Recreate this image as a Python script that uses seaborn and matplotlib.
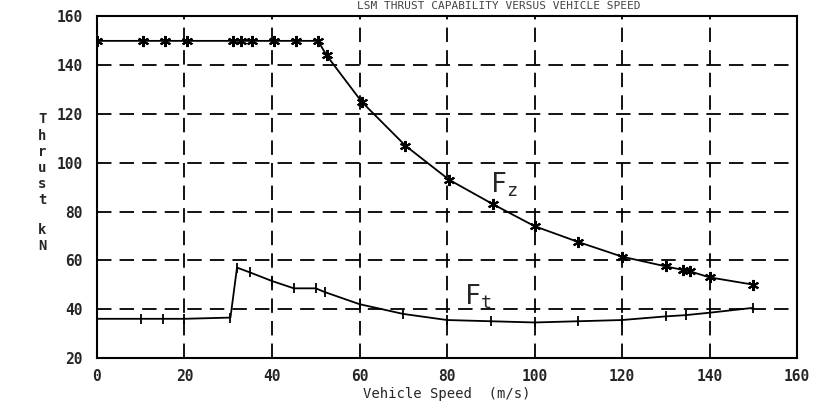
import numpy as np
import pandas as pd
import matplotlib
matplotlib.use("Agg")
import matplotlib.pyplot as plt
import seaborn as sns

# values
speed_fz = [0, 10.5, 15.5, 20.5, 31, 33, 35.5, 40.5, 45.5, 50.5, 52.5, 60.5,
            70.5, 80.5, 90.5, 100, 110, 120, 130, 134, 135.5, 140, 150]
thrust_fz = [150, 150, 150, 150, 150, 150, 150, 150, 150, 150, 144, 125,
             107, 93, 83, 74, 67.5, 61.5, 57.5, 56, 55.5, 53, 50]

speed_ft = [0, 10, 15, 20, 30.5, 32, 35, 40, 45, 50, 52, 60, 70, 80, 90,
            100, 110, 120, 130, 134.5, 140, 150]
thrust_ft = [36, 36, 36, 36, 36.5, 57, 55, 51.5, 48.5, 48.5, 47, 42, 38,
             35.5, 35, 34.5, 35, 35.5, 37, 37.5, 38.5, 40.5]

x_ticks = [0, 20, 40, 60, 80, 100, 120, 140, 160]
y_ticks = [20, 40, 60, 80, 100, 120, 140, 160]

title = "LSM THRUST CAPABILITY VERSUS VEHICLE SPEED"

sns.set_style("white")
plt.rcParams['font.family'] = ['DejaVu Sans Mono', 'DejaVu Sans']

fig = plt.figure(figsize=(8.31, 4.08), dpi=100)
ax = fig.add_axes([0.1167, 0.123, 0.8425, 0.8366])

df_fz = pd.DataFrame({'speed': speed_fz, 'thrust': thrust_fz})
df_ft = pd.DataFrame({'speed': speed_ft, 'thrust': thrust_ft})

sns.lineplot(data=df_fz, x='speed', y='thrust', ax=ax, color='black',
             linewidth=1.3, marker=(6, 2, 0), markersize=8,
             markeredgewidth=1.5, markeredgecolor='black', estimator=None)
sns.lineplot(data=df_ft, x='speed', y='thrust', ax=ax, color='black',
             linewidth=1.3, marker='|', markersize=7,
             markeredgewidth=1.3, markeredgecolor='black', estimator=None)

ax.set_xlim(0, 160)
ax.set_ylim(20, 160)
ax.set_xticks(x_ticks)
ax.set_yticks(y_ticks)
ax.set_xticklabels([str(v) for v in x_ticks], fontsize=10.5, fontweight='bold')
ax.set_yticklabels([str(v) for v in y_ticks], fontsize=10.5, fontweight='bold')
ax.tick_params(axis='x', length=0, pad=8)
ax.tick_params(axis='y', length=0, pad=10)

# dashed grid inside the box
for v in x_ticks[1:-1]:
    ax.axvline(v, color='black', lw=1.3, ls=(0, (8, 4.5)), zorder=1)
for v in y_ticks[1:-1]:
    ax.axhline(v, color='black', lw=1.3, ls=(0, (8, 4.5)), zorder=1)

for s in ax.spines.values():
    s.set_visible(True)
    s.set_color('black')
    s.set_linewidth(1.5)

ax.set_xlabel("Vehicle Speed  (m/s)", fontsize=10, labelpad=2)
ax.set_ylabel("")

ax.text(93, 91, r'$\mathregular{F_z}$', fontsize=19, ha='center', va='center')
ax.text(87, 45, r'$\mathregular{F_t}$', fontsize=19, ha='center', va='center')

fig.text(0.6, 0.998, title, fontsize=8, color='#444444', ha='center', va='top')

# stacked vertical y label
fig.text(0.051, 0.608, "\n".join("Thrust"), fontsize=10, ha='center', va='center',
         linespacing=1.2, fontweight='bold')
fig.text(0.051, 0.417, "k\nN", fontsize=10, ha='center', va='center',
         linespacing=1.2, fontweight='bold')

fig.savefig("out.png", dpi=100)
